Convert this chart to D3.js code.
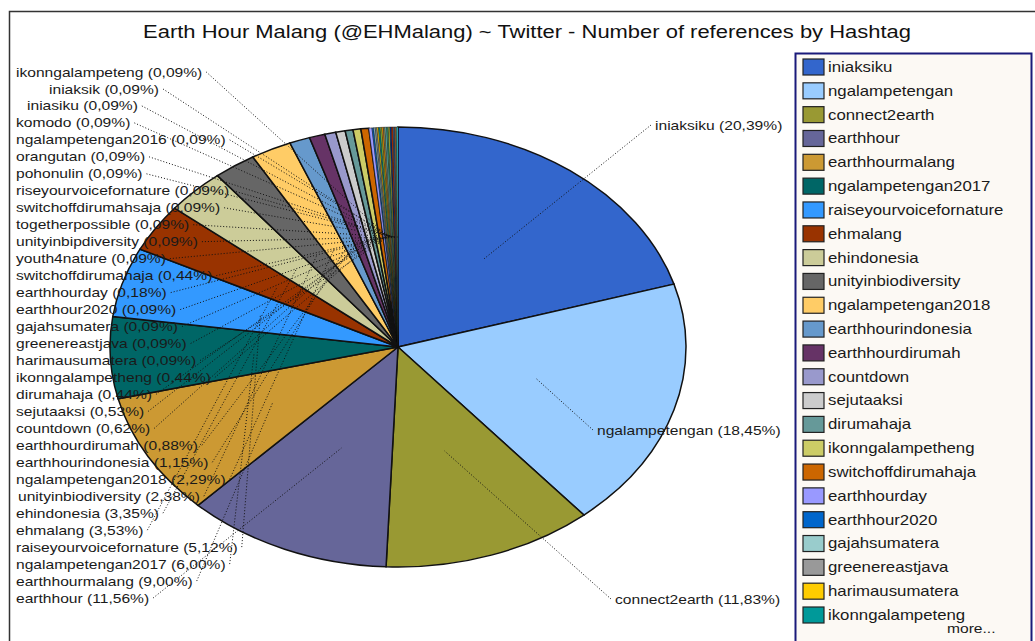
<!DOCTYPE html>
<html lang="en">
<head>
    <meta charset="UTF-8">
    <title>Earth Hour Malang</title>
    <script src="https://d3js.org/d3.v7.min.js"></script>
    <style>
        body { margin: 0; background: #fff; }
        text { font-family: 'Liberation Sans', Arial, sans-serif; }
    </style>
</head>
<body>
<script>
    // hashtags in slice order (clockwise from 12 o'clock)
    const hashtags = ['iniaksiku', 'ngalampetengan', 'connect2earth', 'earthhour', 'earthhourmalang',
        'ngalampetengan2017', 'raiseyourvoicefornature', 'ehmalang', 'ehindonesia', 'unityinbiodiversity',
        'ngalampetengan2018', 'earthhourindonesia', 'earthhourdirumah', 'countdown', 'sejutaaksi',
        'dirumahaja', 'ikonngalampetheng', 'switchoffdirumahaja', 'earthhourday', 'earthhour2020',
        'gajahsumatera', 'greenereastjava', 'harimausumatera', 'ikonngalampeteng', 'iniaksik',
        'iniasiku', 'komodo', 'ngalampetengan2016', 'orangutan', 'pohonulin',
        'riseyourvoicefornature', 'switchoffdirumahsaja', 'togetherpossible', 'unityinbipdiversity', 'youth4nature'];
    const shares = [20.39, 18.45, 11.83, 11.56, 9.00,
        6.00, 5.12, 3.53, 3.35, 2.38,
        2.29, 1.15, 0.88, 0.62, 0.53,
        0.44, 0.44, 0.44, 0.18, 0.09,
        0.09, 0.09, 0.09, 0.09, 0.09,
        0.09, 0.09, 0.09, 0.09, 0.09,
        0.09, 0.09, 0.09, 0.09, 0.09];
    const colors = ['#3366cc', '#99ccff', '#999933', '#666699', '#cc9933',
        '#006666', '#3399ff', '#993300', '#cccc99', '#666666',
        '#ffcc66', '#6699cc', '#663366', '#9999cc', '#cccccc',
        '#669999', '#cccc66', '#cc6600', '#9999ff', '#0066cc',
        '#99cccc', '#999999', '#ffcc00', '#009999', '#99cc33',
        '#ff9900', '#999966', '#66cccc', '#339966', '#cccc33',
        '#003399', '#cc3300', '#336699', '#996633', '#33cccc'];

    // label stacking on the left side, top to bottom
    const leftOrder = ['ikonngalampeteng', 'iniaksik', 'iniasiku', 'komodo', 'ngalampetengan2016',
        'orangutan', 'pohonulin', 'riseyourvoicefornature', 'switchoffdirumahsaja', 'togetherpossible',
        'unityinbipdiversity', 'youth4nature', 'switchoffdirumahaja', 'earthhourday', 'earthhour2020',
        'gajahsumatera', 'greenereastjava', 'harimausumatera', 'ikonngalampetheng', 'dirumahaja',
        'sejutaaksi', 'countdown', 'earthhourdirumah', 'earthhourindonesia', 'ngalampetengan2018',
        'unityinbiodiversity', 'ehindonesia', 'ehmalang', 'raiseyourvoicefornature', 'ngalampetengan2017',
        'earthhourmalang', 'earthhour'];
    const rightLabels = ['iniaksiku', 'ngalampetengan', 'connect2earth'];
    const legendCount = 24;

    const title = 'Earth Hour Malang (@EHMalang) ~ Twitter - Number of references by Hashtag';

    const width = 1035, height = 641;
    const cx = 398, cy = 347, rx = 288, ry = 220;
    const stretch = 1.2; // the original picture is stretched sideways

    const data = hashtags.map((h, i) => ({name: h, value: shares[i], color: colors[i]}));
    const byName = new Map(data.map(d => [d.name, d]));
    const fmt = d => d.name + ' (' + d.value.toFixed(2).replace('.', ',') + '%)';

    const svg = d3.select('body').append('svg')
        .attr('width', width)
        .attr('height', height);

    // wide text helper
    const wideText = (sel, x, y, size, str) => sel.append('text')
        .attr('transform', `translate(${x},${y}) scale(${stretch},1)`)
        .attr('dy', '0.35em')
        .style('font-size', size + 'px')
        .style('fill', '#1a1a1a')
        .text(str);

    // outer frame
    svg.append('rect')
        .attr('x', 9.5).attr('y', 11.5)
        .attr('width', 1060).attr('height', 700)
        .attr('fill', 'none')
        .attr('stroke', '#333')
        .attr('stroke-width', 1.5);

    wideText(svg, 527, 32, 18.3, title)
        .attr('text-anchor', 'middle')
        .style('fill', '#111');

    const pie = d3.pie().sort(null).value(d => d.value);
    const arcs = pie(data);
    const arc = d3.arc().innerRadius(0).outerRadius(ry);
    const sx = rx / ry;

    const pieG = svg.append('g')
        .attr('transform', `translate(${cx},${cy}) scale(${sx},1)`);

    pieG.selectAll('path')
        .data(arcs)
        .enter().append('path')
        .attr('d', arc)
        .attr('fill', d => d.data.color)
        .attr('stroke', '#111')
        .attr('stroke-width', d => d.data.value < 0.3 ? 0.5 : 1.5)
        .attr('vector-effect', 'non-scaling-stroke');

    const arcByName = new Map(arcs.map(a => [a.data.name, a]));
    const anchor = name => {
        const c = arc.centroid(arcByName.get(name));
        return [cx + c[0] * sx, cy + c[1]];
    };

    const leader = (sel, x, y, name) => {
        const a = anchor(name);
        sel.append('line')
            .attr('x1', x).attr('y1', y)
            .attr('x2', a[0]).attr('y2', a[1])
            .attr('stroke', '#111')
            .attr('stroke-width', 1)
            .attr('stroke-dasharray', '1,2');
    };

    // left labels
    const ly = d3.scalePoint().domain(leftOrder).range([72, 598]);
    const indent = {iniaksik: 33, iniasiku: 11, unityinbiodiversity: 2};

    const labels = svg.append('g');
    leftOrder.forEach(name => {
        const x = 16 + (indent[name] || 0);
        const t = wideText(labels, x, ly(name), 13, fmt(byName.get(name)));
        const end = x + t.node().getComputedTextLength() * stretch + 4;
        leader(labels, end, ly(name), name);
    });

    // right labels
    const rightPos = {iniaksiku: [655, 125], ngalampetengan: [597, 430], connect2earth: [615, 599]};
    rightLabels.forEach(name => {
        const p = rightPos[name];
        wideText(labels, p[0], p[1], 13, fmt(byName.get(name)));
        leader(labels, p[0] - 4, p[1], name);
    });

    // legend
    const legend = svg.append('g').attr('transform', 'translate(795,53)');
    legend.append('rect')
        .attr('x', 0.5).attr('y', 0.5)
        .attr('width', 236).attr('height', 600)
        .attr('fill', '#fcf9f4')
        .attr('stroke', '#1a1a7a')
        .attr('stroke-width', 2);

    const legY = d3.scaleLinear().domain([0, legendCount - 1]).range([14, 562]);
    const items = legend.selectAll('.item')
        .data(data.slice(0, legendCount))
        .enter().append('g').attr('class', 'item')
        .attr('transform', (d, i) => `translate(0,${legY(i)})`);
    items.append('rect')
        .attr('x', 8).attr('y', -8)
        .attr('width', 21).attr('height', 16)
        .attr('fill', d => d.color)
        .attr('stroke', '#222')
        .attr('stroke-width', 1.2);
    items.each(function(d) {
        wideText(d3.select(this), 33, 0, 14, d.name);
    });
    wideText(legend, 152, 575, 13, 'more...');
</script>
</body>
</html>
